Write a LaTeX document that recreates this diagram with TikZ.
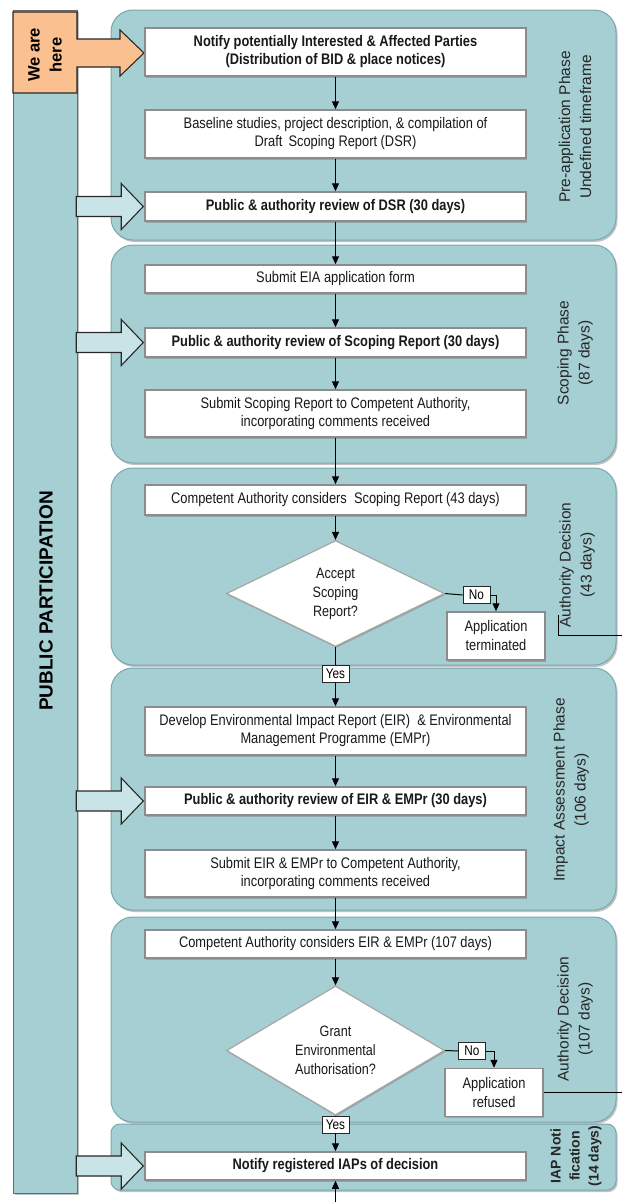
\documentclass[tikz,border=0pt]{standalone}
\usepackage{fontspec}
\setmainfont{Liberation Sans}
\newfontfamily\narrowfont[FakeStretch=0.84]{Liberation Sans}
\usetikzlibrary{arrows.meta,shapes.geometric,shadows}

\definecolor{panelfill}{RGB}{166,207,211}
\definecolor{panelline}{RGB}{120,168,175}
\definecolor{arrowfill}{RGB}{200,228,231}
\definecolor{herefill}{RGB}{250,192,143}
\definecolor{edgegray}{RGB}{40,40,40}

\tikzset{
  phase/.style={fill=panelfill, draw=panelline, line width=1pt, rounded corners=22pt,
    drop shadow={shadow xshift=1.5pt, shadow yshift=-2pt, fill=black!40, opacity=.6}},
  bar/.style={fill=panelfill, draw=edgegray!70, line width=1pt,
    drop shadow={shadow xshift=1.5pt, shadow yshift=-2pt, fill=black!40, opacity=.6}},
  pparrow/.style={fill=arrowfill, draw=edgegray, line width=1.1pt},
  stepbox/.style={draw=black!45, line width=1.5pt, fill=white, minimum width=381pt,
    align=center, inner sep=1pt, text=black!90,
    font=\narrowfont\fontsize{15.3}{18}\selectfont,
    drop shadow={shadow xshift=1pt, shadow yshift=-1.5pt, fill=black!50, opacity=.5}},
  keybox/.style={stepbox, font=\narrowfont\bfseries\fontsize{15.3}{18}\selectfont},
  endbox/.style={stepbox, minimum width=98pt, minimum height=48pt,
    font=\narrowfont\fontsize{15.3}{19}\selectfont},
  choice/.style={diamond, draw=black!35, line width=1.2pt, fill=white, align=center,
    minimum width=218pt, minimum height=106pt, inner sep=0pt, text=black!90,
    font=\narrowfont\fontsize{15}{19}\selectfont,
    drop shadow={shadow xshift=1pt, shadow yshift=-1.5pt, fill=black!50, opacity=.5}},
  tag/.style={draw=black!85, fill=white, line width=.7pt, inner sep=1pt,
    minimum width=27pt, minimum height=17pt, font=\narrowfont\fontsize{14}{16}\selectfont},
  phaselabel/.style={rotate=90, align=center, text=black!85,
    font=\fontsize{15.5}{21}\selectfont},
  flow/.style={-{Triangle[length=8pt,width=7pt]}, line width=1pt},
}

\begin{document}
\begin{tikzpicture}[x=1pt, y=-1pt]
  \useasboundingbox (0,0) rectangle (622,1202);

  % phases
  \filldraw[phase] (111,10) rectangle (616,240);
  \filldraw[phase] (111,245) rectangle (616,463);
  \filldraw[phase] (111,468) rectangle (616,665);
  \filldraw[phase] (111,668) rectangle (616,910);
  \filldraw[phase] (111,917) rectangle (616,1122);
  \filldraw[phase, rounded corners=9pt] (111,1124) rectangle (616,1190);

  % public participation
  \filldraw[bar] (13,10) rectangle (77,1193);
  \filldraw[pparrow, fill=herefill] (13,12) -- (77,12) -- (77,39) -- (120,39) -- (120,30) -- (144,53)
    -- (120,76) -- (120,67) -- (77,67) -- (77,93) -- (13,93) -- cycle;
  \node[rotate=90, align=center, font=\bfseries\fontsize{16.5}{22}\selectfont] (here) at (45,55) {We are\\here};
  \node[rotate=90, font=\bfseries\fontsize{19}{21}\selectfont] (pp) at (46,601) {PUBLIC PARTICIPATION};

  % steps
  \node[keybox, minimum height=48pt] (b1) at (335.5,52) {Notify potentially Interested \& Affected Parties\\(Distribution of BID \& place notices)};
  \node[stepbox, minimum height=48pt] (b2) at (335.5,134) {Baseline studies, project description, \& compilation of\\Draft \,Scoping Report (DSR)};
  \node[keybox, minimum height=29pt] (b3) at (335.5,206.5) {Public \& authority review of DSR (30 days)};
  \node[stepbox, minimum height=28pt] (b4) at (335.5,279) {Submit EIA application form};
  \node[keybox, minimum height=29pt] (b5) at (335.5,342.5) {Public \& authority review of Scoping Report (30 days)};
  \node[stepbox, minimum height=47pt] (b6) at (335.5,413.5) {Submit Scoping Report to Competent Authority,\\incorporating comments received};
  \node[stepbox, minimum height=30pt] (b7) at (335.5,500) {Competent Authority considers \ Scoping Report (43 days)};
  \node[choice] (d1) at (335.5,593.5) {Accept\\Scoping\\Report?};
  \node[tag] (no1) at (476.5,595) {No};
  \node[endbox] (at) at (496,636) {Application\\terminated};
  \node[tag] (yes1) at (335.5,674) {Yes};
  \node[stepbox, minimum height=48pt] (b8) at (335.5,731) {Develop Environmental Impact Report (EIR) \ \& Environmental\\Management Programme (EMPr)};
  \node[keybox, minimum height=28pt] (b9) at (335.5,801) {Public \& authority review of EIR \& EMPr (30 days)};
  \node[stepbox, minimum height=47pt] (b10) at (335.5,873.5) {Submit EIR \& EMPr to Competent Authority,\\incorporating comments received};
  \node[stepbox, minimum height=28pt] (b11) at (335.5,944) {Competent Authority considers EIR \& EMPr (107 days)};
  \node[choice] (d2) at (335.5,1050.5) {Grant\\Environmental\\Authorisation?};
  \node[tag] (no2) at (472,1051) {No};
  \node[endbox] (ar) at (494,1092.5) {Application\\refused};
  \node[tag] (yes2) at (335.5,1124.5) {Yes};
  \node[keybox, minimum height=28pt] (b12) at (335.5,1166) {Notify registered IAPs of decision};

  % arrows from the public participation bar
  \foreach \b in {b3,b5,b9,b12}
    \filldraw[pparrow] ([xshift=-1pt]\b.west) -- ++(-22,-23) -- ++(0,13) -- ++(-45,0) -- ++(0,20) -- ++(45,0) -- ++(0,13) -- cycle;

  % flow
  \foreach \a/\b in {b1/b2,b2/b3,b3/b4,b4/b5,b5/b6,b6/b7,b7/d1,yes1/b8,b8/b9,b9/b10,b10/b11,b11/d2,yes2/b12}
    \draw[flow] (\a.south) -- (\b.north);
  \draw[line width=1pt] (d1.south) -- (yes1.north);
  \draw[line width=1pt] (d2.south) -- (yes2.north);
  \draw[line width=1pt] (d1.east) -- (no1.west);
  \draw[line width=1pt] (d2.east) -- (no2.west);
  \draw[flow] (no1.east) -| (at.north);
  \draw[flow] (no2.east) -| (ar.north);
  \coordinate (bottomin) at (335.5,1202);
  \draw[flow] (bottomin) -- (b12.south);

  % phase labels
  \node[phaselabel] (l1) at (575,127) {Pre-application Phase\\Undefined timeframe};
  \node[phaselabel] (l2) at (575,353) {Scoping Phase\\(87 days)};
  \node[phaselabel] (l3) at (577,565) {Authority Decision\\(43 days)};
  \node[phaselabel] (l4) at (571,790) {Impact Assessment Phase\\(106 days)};
  \node[phaselabel] (l5) at (575,1019) {Authority Decision\\(107 days)};
  \node[phaselabel, font=\bfseries\fontsize{14}{19}\selectfont] (l6) at (576,1156) {IAP Noti\\fication\\(14 days)};

  % stray rules
  \coordinate (tick1) at (558,615);
  \coordinate (corner1) at (558,635);
  \coordinate (edge1) at (622,635);
  \draw[line width=.8pt] (tick1) -- (corner1) -- (edge1);
  \coordinate (edge2) at (622,1092.5);
  \draw[line width=.8pt] (ar.east) -- (edge2);
\end{tikzpicture}
\end{document}
